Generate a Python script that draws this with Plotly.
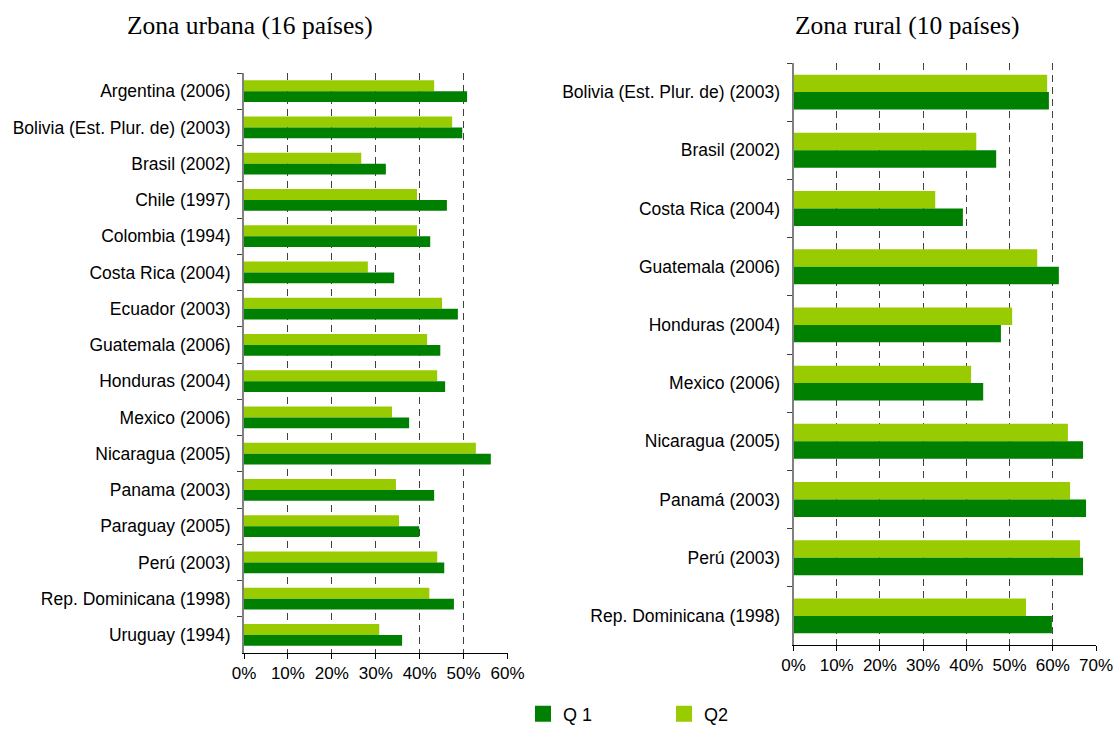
import plotly.graph_objects as go

urban_countries = ["Argentina (2006)", "Bolivia (Est. Plur. de) (2003)", "Brasil (2002)", "Chile (1997)",
                   "Colombia (1994)", "Costa Rica (2004)", "Ecuador (2003)", "Guatemala (2006)",
                   "Honduras (2004)", "Mexico (2006)", "Nicaragua (2005)", "Panama (2003)",
                   "Paraguay (2005)", "Perú (2003)", "Rep. Dominicana (1998)", "Uruguay (1994)"]
urban_q1 = [50.8, 49.7, 32.3, 46.2, 42.4, 34.2, 48.7, 44.7, 45.8, 37.6, 56.2, 43.3, 39.9, 45.6, 47.8, 36.0]
urban_q2 = [43.3, 47.4, 26.7, 39.4, 39.4, 28.2, 45.1, 41.7, 44.0, 33.7, 52.8, 34.6, 35.3, 44.0, 42.2, 30.8]

rural_countries = ["Bolivia (Est. Plur. de) (2003)", "Brasil (2002)", "Costa Rica (2004)", "Guatemala (2006)",
                   "Honduras (2004)", "Mexico (2006)", "Nicaragua (2005)", "Panamá (2003)",
                   "Perú (2003)", "Rep. Dominicana (1998)"]
rural_q1 = [59.1, 46.9, 39.2, 61.4, 48.0, 43.9, 67.0, 67.7, 67.0, 59.8]
rural_q2 = [58.7, 42.3, 32.8, 56.4, 50.6, 41.1, 63.5, 64.0, 66.3, 53.8]

urban_ticks = [0, 10, 20, 30, 40, 50, 60]
rural_ticks = [0, 10, 20, 30, 40, 50, 60, 70]

C_Q1 = "#008000"
C_Q2 = "#99CC00"
FONT = "Liberation Sans"

W, H = 1114, 730


def px(x):
    return x / W


def py(y):
    return 1 - y / H


fig = go.Figure()
fig.add_trace(go.Bar(y=urban_countries, x=urban_q2, orientation="h", name="Q2", showlegend=False,
                     marker=dict(color=C_Q2, line=dict(width=0)), xaxis="x", yaxis="y"))
fig.add_trace(go.Bar(y=urban_countries, x=urban_q1, orientation="h", name="Q 1", showlegend=False,
                     marker=dict(color=C_Q1, line=dict(width=0)), xaxis="x", yaxis="y"))
fig.add_trace(go.Bar(y=rural_countries, x=rural_q2, orientation="h", name="Q2", showlegend=False,
                     marker=dict(color=C_Q2, line=dict(width=0)), xaxis="x2", yaxis="y2"))
fig.add_trace(go.Bar(y=rural_countries, x=rural_q1, orientation="h", name="Q 1", showlegend=False,
                     marker=dict(color=C_Q1, line=dict(width=0)), xaxis="x2", yaxis="y2"))
# legend entries (square swatches)
fig.add_trace(go.Scatter(x=[None], y=[None], mode="markers", name="Q 1", xaxis="x", yaxis="y",
                         marker=dict(symbol="square", size=24, color=C_Q1)))
fig.add_trace(go.Scatter(x=[None], y=[None], mode="markers", name="Q2", xaxis="x", yaxis="y",
                         marker=dict(symbol="square", size=24, color=C_Q2)))

xcommon = dict(showgrid=True, gridcolor="#404040", griddash="7px,5px", gridwidth=1,
               showline=True, linecolor="black", linewidth=1, ticks="outside", ticklen=5,
               tickcolor="black", zeroline=False, tickmode="array", automargin=False,
               ticklabeloverflow="allow",
               tickfont=dict(family=FONT, size=17, color="black"))
ycommon = dict(type="category", autorange="reversed", showline=True, linecolor="#808080",
               linewidth=2, ticks="outside", ticklen=5, tickcolor="#404040", tickson="boundaries",
               showgrid=False, automargin=False,
               tickfont=dict(family=FONT, size=17.5, color="black"), ticklabelstandoff=8)

fig.update_layout(
    width=W, height=H,
    margin=dict(l=0, r=0, t=0, b=0, autoexpand=False),
    paper_bgcolor="white", plot_bgcolor="white",
    barmode="group", bargap=0.4, bargroupgap=0,
    xaxis=dict(domain=[px(244), px(507.5)], range=[0, 60], tickvals=urban_ticks,
               ticktext=[f"{v}%" for v in urban_ticks], anchor="y", **xcommon),
    yaxis=dict(domain=[py(653), py(73)], anchor="x", **ycommon),
    xaxis2=dict(domain=[px(793.5), px(1096)], range=[0, 70], tickvals=rural_ticks,
                ticktext=[f"{v}%" for v in rural_ticks], anchor="y2", **xcommon),
    yaxis2=dict(domain=[py(645), py(63)], anchor="x2", **ycommon),
    legend=dict(orientation="h", x=px(523), xanchor="left", y=py(714), yanchor="middle",
                font=dict(family=FONT, size=18, color="black"), entrywidth=96,
                traceorder="normal", itemsizing="trace", bgcolor="rgba(0,0,0,0)"),
    annotations=[
        dict(text="Zona urbana (16 países)", x=px(250), y=py(25), xref="paper", yref="paper",
             showarrow=False, font=dict(family="Liberation Serif", size=25.5, color="black"),
             xanchor="center", yanchor="middle"),
        dict(text="Zona rural (10 países)", x=px(907), y=py(25), xref="paper", yref="paper",
             showarrow=False, font=dict(family="Liberation Serif", size=25.5, color="black"),
             xanchor="center", yanchor="middle"),
    ],
)

fig.write_html("out.html", config={"displayModeBar": False},
               post_script="document.body.style.margin='0';")
